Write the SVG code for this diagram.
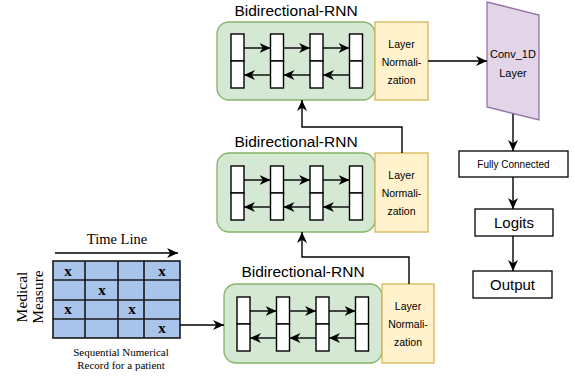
<svg xmlns="http://www.w3.org/2000/svg" width="574" height="376" viewBox="0 0 574 376">
  <style>
    .rnn { fill: #d5e8d4; stroke: #82b366; stroke-width: 1.3; }
    .ln { fill: #fff2cc; stroke: #d6b656; stroke-width: 1.3; }
    .cell { fill: #ffffff; stroke: #000000; stroke-width: 1.4; }
    .box { fill: #ffffff; stroke: #000000; stroke-width: 1.3; }
    .conn { fill: none; stroke: #000000; stroke-width: 1.4; }
    .title { font-family: "Liberation Sans", Arial, sans-serif; font-size: 15.5px; fill: #000; text-anchor: middle; }
    .lnt { font-family: "Liberation Sans", Arial, sans-serif; font-size: 10.5px; fill: #000; text-anchor: middle; }
    .sans { font-family: "Liberation Sans", Arial, sans-serif; fill: #000; text-anchor: middle; }
    .serif { font-family: "Liberation Serif", "Times New Roman", serif; fill: #000; text-anchor: middle; }
    .grid { fill: #a9c4eb; stroke: #1a1a1a; stroke-width: 1.6; }
    .mark { font-family: "Liberation Serif", "Times New Roman", serif; font-weight: bold; font-size: 15px; fill: #000; text-anchor: middle; }
  </style>
  <defs>
    <marker id="arr" viewBox="0 0 11 10" refX="11" refY="5" markerWidth="11" markerHeight="10" markerUnits="userSpaceOnUse" orient="auto">
      <path d="M0,0 L11,5 L0,10 L3.3,5 z" fill="#000"/>
    </marker>
    <!-- one bidirectional RNN unit: 4 stacked cells with forward/backward links -->
    <g id="cells">
      <rect class="cell" x="0" y="0" width="13" height="27"/>
      <rect class="cell" x="0" y="27" width="13" height="27"/>
      <rect class="cell" x="39.5" y="0" width="13" height="27"/>
      <rect class="cell" x="39.5" y="27" width="13" height="27"/>
      <rect class="cell" x="79" y="0" width="13" height="27"/>
      <rect class="cell" x="79" y="27" width="13" height="27"/>
      <rect class="cell" x="118.5" y="0" width="13" height="27"/>
      <rect class="cell" x="118.5" y="27" width="13" height="27"/>
      <path class="conn" d="M13,14 H39.5" marker-end="url(#arr)"/>
      <path class="conn" d="M52.5,14 H79" marker-end="url(#arr)"/>
      <path class="conn" d="M92,14 H118.5" marker-end="url(#arr)"/>
      <path class="conn" d="M39.5,41 H13" marker-end="url(#arr)"/>
      <path class="conn" d="M79,41 H52.5" marker-end="url(#arr)"/>
      <path class="conn" d="M118.5,41 H92" marker-end="url(#arr)"/>
    </g>
  </defs>

  <!-- input record grid -->
  <g id="record">
    <text class="serif" x="117" y="244" font-size="14.5">Time Line</text>
    <path class="conn" d="M55,253 H178" marker-end="url(#arr)"/>
    <rect class="grid" x="53" y="261" width="127" height="77"/>
    <path fill="none" stroke="#1a1a1a" stroke-width="1.6" d="M85,261 V338 M118,261 V338 M144,261 V338 M53,280 H180 M53,300 H180 M53,319 H180"/>
    <text class="mark" x="68" y="276">x</text>
    <text class="mark" x="162" y="276">x</text>
    <text class="mark" x="102" y="295">x</text>
    <text class="mark" x="68" y="314">x</text>
    <text class="mark" x="132" y="314">x</text>
    <text class="mark" x="162" y="333">x</text>
    <g transform="translate(0,297) rotate(-90)">
      <text class="serif" x="0" y="27" font-size="15.5">Medical</text>
      <text class="serif" x="0" y="43" font-size="15.5">Measure</text>
    </g>
    <text class="serif" x="121" y="356" font-size="11">Sequential Numerical</text>
    <text class="serif" x="121" y="369" font-size="11">Record for a patient</text>
  </g>

  <!-- bottom RNN -->
  <g id="rnn1">
    <text class="title" x="303" y="277">Bidirectional-RNN</text>
    <rect class="rnn" x="224" y="284" width="158" height="79" rx="12"/>
    <use href="#cells" x="237" y="297"/>
  </g>
  <g id="ln1">
    <rect class="ln" x="382" y="284" width="52" height="79"/>
    <text class="lnt" x="408" y="310">Layer</text>
    <text class="lnt" x="408" y="328">Normali-</text>
    <text class="lnt" x="408" y="346">zation</text>
  </g>

  <!-- middle RNN -->
  <g id="rnn2">
    <text class="title" x="296" y="147">Bidirectional-RNN</text>
    <rect class="rnn" x="217" y="153" width="158" height="79" rx="12"/>
    <use href="#cells" x="231" y="166"/>
  </g>
  <g id="ln2">
    <rect class="ln" x="375" y="153" width="53" height="79"/>
    <text class="lnt" x="401.5" y="179">Layer</text>
    <text class="lnt" x="401.5" y="197">Normali-</text>
    <text class="lnt" x="401.5" y="215">zation</text>
  </g>

  <!-- top RNN -->
  <g id="rnn3">
    <text class="title" x="296" y="16">Bidirectional-RNN</text>
    <rect class="rnn" x="217" y="22" width="158" height="78" rx="12"/>
    <use href="#cells" x="231" y="34"/>
  </g>
  <g id="ln3">
    <rect class="ln" x="375" y="22" width="53" height="78"/>
    <text class="lnt" x="401.5" y="48">Layer</text>
    <text class="lnt" x="401.5" y="66">Normali-</text>
    <text class="lnt" x="401.5" y="84">zation</text>
  </g>

  <!-- output head -->
  <g id="conv">
    <polygon points="487,2 539,15 539,120 487,107" fill="#e1d5e7" stroke="#9673a6" stroke-width="1.3"/>
    <text class="sans" x="513" y="58" font-size="11">Conv_1D</text>
    <text class="sans" x="513" y="77" font-size="11">Layer</text>
  </g>
  <g id="fc">
    <rect class="box" x="459" y="151" width="109" height="26"/>
    <text class="sans" x="513.5" y="168" font-size="10">Fully Connected</text>
  </g>
  <g id="logits">
    <rect class="box" x="475" y="209" width="78" height="27"/>
    <text class="sans" x="514" y="228" font-size="15">Logits</text>
  </g>
  <g id="output">
    <rect class="box" x="473" y="271" width="79" height="27"/>
    <text class="sans" x="512.5" y="290" font-size="15">Output</text>
  </g>

  <!-- connectors -->
  <g id="connectors">
    <path class="conn" d="M180,325 H224" marker-end="url(#arr)"/>
    <path class="conn" d="M409,284 V257 H302 V232" marker-end="url(#arr)"/>
    <path class="conn" d="M402,153 V127 H302 V100" marker-end="url(#arr)"/>
    <path class="conn" d="M428,61 H487" marker-end="url(#arr)"/>
    <path class="conn" d="M513,114 V151" marker-end="url(#arr)"/>
    <path class="conn" d="M513,177 V209" marker-end="url(#arr)"/>
    <path class="conn" d="M513,236 V271" marker-end="url(#arr)"/>
  </g>
</svg>
